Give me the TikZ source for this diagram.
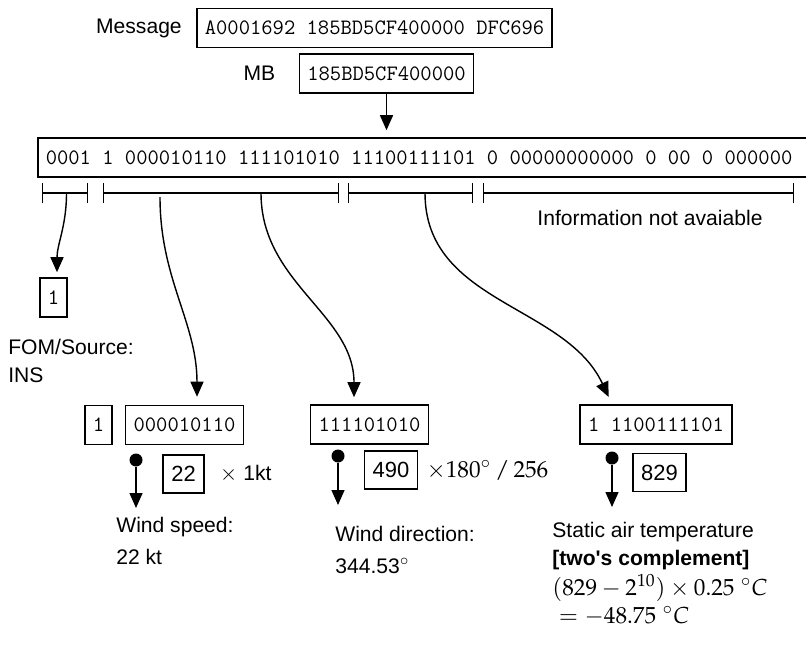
\documentclass[tikz,border=0pt]{standalone}
\usepackage{mathpazo}
\usepackage[no-math]{fontspec}
\setmainfont{Liberation Sans}
\usetikzlibrary{arrows.meta, positioning}

\begin{document}
\begin{tikzpicture}[
  bitbox/.style={draw, line width=0.9pt, font=\ttfamily\fontsize{12.5}{14}\selectfont, minimum height=0.78cm, inner xsep=0.16cm, inner ysep=0pt},
  valbox/.style={draw, line width=0.9pt, font=\fontsize{12.5}{14}\selectfont, minimum height=0.76cm, inner xsep=0.16cm, inner ysep=0pt},
  lbl/.style={font=\fontsize{12}{15.9}\selectfont, align=left, inner sep=0pt},
  dot/.style={circle, fill, inner sep=0pt, minimum size=0.26cm},
  arr/.style={-{Triangle[width=0.26cm, length=0.3cm]}, line width=0.8pt},
  bar/.style={{Bar[width=0.4cm]}-{Bar[width=0.4cm]}, line width=0.8pt}
]
  \useasboundingbox (0,0) rectangle (16.12,-12.9);
  \node[bitbox] (msg) at (7.49,-0.56) {A0001692 185BD5CF400000 DFC696};
  \node[lbl, left=0.28cm of msg] (msglbl) {Message};
  \node[bitbox] (mb) at (7.73,-1.47) {185BD5CF400000};
  \node[lbl, left=0.46cm of mb] (mblbl) {MB};
  \node[bitbox, anchor=west, text width=15.6cm, align=flush left] (bits) at (0.74,-3.15) {0001 1 000010110 111101010 11100111101 0 00000000000 0 00 0 000000};
  \draw[arr, shorten >=0.14cm] (mb.south) -- (mb.south |- bits.north);

  \foreach \a/\b in {0.83/1.76, 2.05/6.78, 6.96/9.46, 9.66/15.88}
    \draw[bar] (\a,-3.86) -- (\b,-3.86);
  \node[lbl] (na) at (13.0,-4.36) {Information not avaiable};

  \coordinate (s1) at (1.33,-3.86);
  \coordinate (s2) at (3.2,-3.94);
  \coordinate (s3) at (5.22,-3.86);
  \coordinate (s4) at (8.5,-3.86);

  \node[bitbox] (fom) at (1.07,-5.95) {1};
  \node[bitbox] (sgn) at (1.97,-8.5) {1};
  \node[bitbox] (ws) at (3.69,-8.5) {000010110};
  \node[bitbox] (wd) at (7.39,-8.49) {111101010};
  \node[bitbox] (tp) at (13.12,-8.49) {1 1100111101};

  \draw[arr, shorten >=0.1cm] (s1) to[out=-90, in=90] ([xshift=0.07cm]fom.north);
  \draw[arr, shorten >=0.16cm] (s2) to[out=-90, in=90] ([xshift=0.25cm]ws.north);
  \draw[arr, shorten >=0.14cm] (s3) to[out=-90, in=90] ([xshift=-0.31cm]wd.north);
  \draw[arr, shorten >=0.16cm] (s4) to[out=-90, in=115] ([xshift=-0.88cm]tp.north);

  \node[dot] (d1) at (2.72,-9.2) {};
  \coordinate (t1) at (2.72,-10.16);
  \draw[arr] (d1) -- (t1);
  \node[dot] (d2) at (6.76,-9.12) {};
  \coordinate (t2) at (6.76,-10.1);
  \draw[arr] (d2) -- (t2);
  \node[dot] (d3) at (12.24,-9.16) {};
  \coordinate (t3) at (12.24,-10.14);
  \draw[arr] (d3) -- (t3);

  \node[valbox] (v1) at (3.67,-9.48) {22};
  \node[lbl, right=0.3cm of v1] (f1) {$\times$ 1kt};
  \node[valbox] (v2) at (7.82,-9.4) {490};
  \node[lbl, right=0.16cm of v2, font=\fontsize{13.2}{15.9}\selectfont] (f2) {$\times 180^\circ\,/\,256$};
  \node[valbox] (v3) at (13.19,-9.45) {829};

  \node[lbl, anchor=north west] (fomlbl) at (0.16,-6.78) {FOM/Source:\\INS};
  \node[lbl, anchor=north west] (wslbl) at (2.32,-10.34) {Wind speed:\\[2.3pt]22 kt};
  \node[lbl, anchor=north west] (wdlbl) at (6.7,-10.52) {Wind direction:\\[2.3pt]344.53$^\circ$};
  \node[lbl, anchor=north west] (tplbl) at (11.04,-10.44) {Static air temperature\\\textbf{[two\textquotesingle s complement]}\\[1pt]{\fontsize{13.2}{15.9}\selectfont$(829-2^{10})\times 0.25\ ^\circ C$}\\{\fontsize{13.2}{15.9}\selectfont\ $=-48.75\ ^\circ C$}};
\end{tikzpicture}
\end{document}
